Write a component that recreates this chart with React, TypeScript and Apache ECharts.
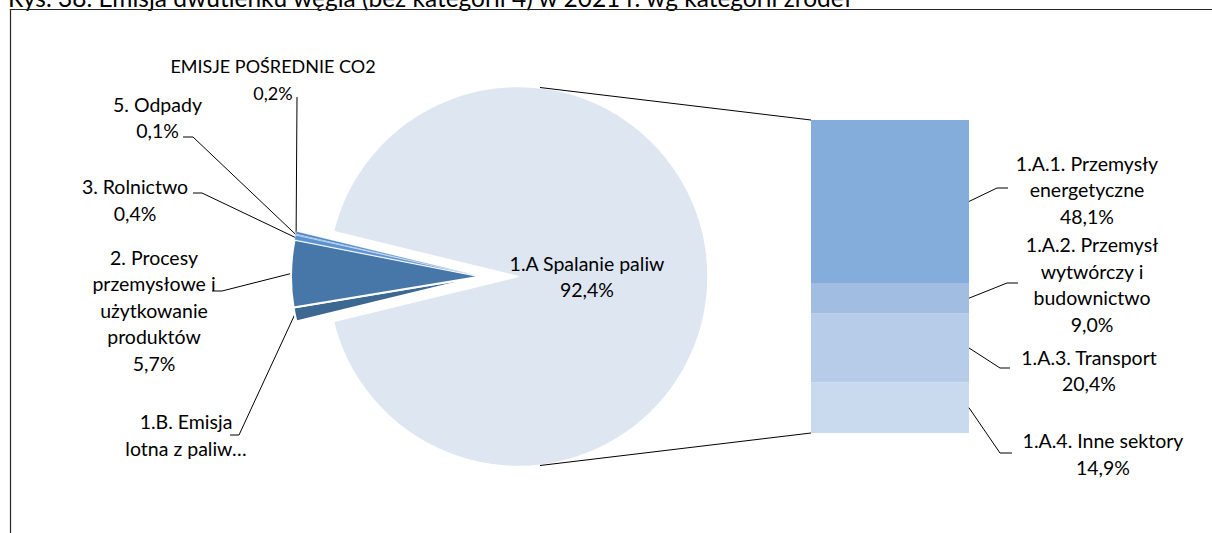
import React, { useEffect, useRef } from "react";
import * as echarts from "echarts";

// ---------- data ----------
const TITLE = "Rys. 38. Emisja dwutlenku węgla (bez kategorii 4) w 2021 r. wg kategorii źródeł";

const mainName = "1.A Spalanie paliw";
const mainValue = 92.4;

const pieNames = [
  "1.B. Emisja\nlotna z paliw…",
  "2. Procesy\nprzemysłowe i\nużytkowanie\nproduktów",
  "3. Rolnictwo",
  "5. Odpady",
  "EMISJE POŚREDNIE CO2",
];
const pieValues = [1.2, 5.7, 0.4, 0.1, 0.2];
const pieShowValue = [false, true, true, true, true];

// top to bottom in the bar
const barNames = [
  "1.A.1. Przemysły\nenergetyczne",
  "1.A.2. Przemysł\nwytwórczy i\nbudownictwo",
  "1.A.3. Transport",
  "1.A.4. Inne sektory",
];
const barValues = [48.1, 9.0, 20.4, 14.9];

// ---------- styles / layout ----------
const FONT = "Lato";
const FONT_SIZE = 19.5;
const TITLE_SIZE = 24.5;
const LINE_H = 26.5;
const TEXT_COLOR = "#000";

const mainColor = "#DEE6F2";
const pieColors = ["#3D6892", "#4677A8", "#5B93D0", "#6FA3D8", "#4F86C6"];
const pieLabelSizes = [FONT_SIZE, FONT_SIZE, FONT_SIZE, FONT_SIZE, 18];
const barColors = ["#84ADDB", "#A2BDE2", "#B6CCE8", "#C9D9EE"];

const PIE_CX = 518;
const PIE_CY = 276.5;
const PIE_R = 190;
const EXPLODE = 37;

const BAR_LEFT = 811;
const BAR_TOP = 120;
const BAR_W = 158;
const BAR_H = 313;

const pieLabelLayout = [
  { x: 186, y: 435, elbow: [239, 435], end: [230, 435] },
  { x: 154, y: 310, elbow: [222, 291], end: [212, 291] },
  { x: 135, y: 200, elbow: [202, 193], end: [193, 193] },
  { x: 157.5, y: 117.5, elbow: [193, 137], end: [183, 137] },
  { x: 273, y: 79.5, elbow: [297, 97], end: [297, 97] },
];
const barLabelLayout = [
  { x: 1087, y: 189.5, elbow: [997, 188], end: [1008, 188] },
  { x: 1092, y: 284.5, elbow: [1007, 283], end: [1018, 283] },
  { x: 1089, y: 370.5, elbow: [1000, 368], end: [1010, 368] },
  { x: 1103, y: 454, elbow: [1000, 453], end: [1012, 453] },
];

const fmt = (v: number) => v.toFixed(1).replace(".", ",") + "%";

const restTotal = pieValues.reduce((a, b) => a + b, 0);
const total = mainValue + restTotal;
const barTotal = barValues.reduce((a, b) => a + b, 0);
const START_ANGLE = 180 - ((restTotal / total) * 360) / 2;

function sliceMidPoint(i: number, cx: number) {
  let before = mainValue;
  for (let j = 0; j < i; j++) before += pieValues[j];
  const a = ((START_ANGLE - ((before + pieValues[i] / 2) / total) * 360) * Math.PI) / 180;
  return [cx + PIE_R * Math.cos(a), PIE_CY - PIE_R * Math.sin(a)];
}

function barSegmentMid(i: number) {
  let before = 0;
  for (let j = 0; j < i; j++) before += barValues[j];
  const y = BAR_TOP + (BAR_H * (before + barValues[i] / 2)) / barTotal;
  return [BAR_LEFT + BAR_W, y];
}

const textStyle = {
  fontFamily: FONT,
  fontSize: FONT_SIZE,
  lineHeight: LINE_H,
  color: TEXT_COLOR,
};

function buildOption(): any {
  const barOrder = [3, 2, 1, 0]; // stacked bottom to top
  const barSeries = barOrder.map((i) => ({
    type: "bar",
    name: barNames[i],
    stack: "fuel",
    data: [barValues[i]],
    barWidth: "100%",
    silent: true,
    itemStyle: { color: barColors[i] },
    label: {
      show: true,
      position: "right",
      formatter: barNames[i] + "\n" + fmt(barValues[i]),
      ...textStyle,
    },
    labelLayout: () => {
      const L = barLabelLayout[i];
      return { x: L.x, y: L.y, align: "center", verticalAlign: "middle" };
    },
  }));

  const barLeaders = barValues.map((_, i) => ({
    type: "polyline",
    shape: { points: [barSegmentMid(i), barLabelLayout[i].elbow, barLabelLayout[i].end] },
    style: { stroke: "#000", lineWidth: 1, fill: null },
    z: 10,
  }));

  const exCx = PIE_CX - EXPLODE;

  return {
    animation: false,
    backgroundColor: "#fff",
    graphic: [
      {
        type: "text",
        x: 8,
        y: 10,
        style: {
          text: TITLE,
          font: `${TITLE_SIZE}px ${FONT}`,
          fill: TEXT_COLOR,
          verticalAlign: "bottom",
        },
      },
      {
        type: "line",
        shape: { x1: 10, y1: 9.5, x2: 1212, y2: 9.5 },
        style: { stroke: "#262626", lineWidth: 1.2 },
      },
      {
        type: "line",
        shape: { x1: 10.5, y1: 9, x2: 10.5, y2: 533 },
        style: { stroke: "#262626", lineWidth: 1.2 },
      },
      {
        type: "line",
        shape: { x1: 540, y1: 87.5, x2: BAR_LEFT, y2: BAR_TOP },
        style: { stroke: "#000", lineWidth: 1 },
        z: 10,
      },
      {
        type: "line",
        shape: { x1: 540, y1: 465.5, x2: BAR_LEFT, y2: BAR_TOP + BAR_H },
        style: { stroke: "#000", lineWidth: 1 },
        z: 10,
      },
      ...barLeaders,
    ],
    grid: { left: BAR_LEFT, top: BAR_TOP, width: BAR_W, height: BAR_H },
    xAxis: { type: "category", data: ["1.A"], show: false },
    yAxis: { type: "value", min: 0, max: barTotal, show: false },
    series: [
      {
        type: "pie",
        center: [PIE_CX, PIE_CY],
        radius: PIE_R,
        startAngle: START_ANGLE,
        clockwise: true,
        avoidLabelOverlap: false,
        silent: true,
        label: { ...textStyle },
        labelLine: { show: false },
        data: [
          {
            name: mainName,
            value: mainValue,
            itemStyle: { color: mainColor, borderColor: "#fff", borderWidth: 1.5 },
            label: {
              show: true,
              position: "inside",
              formatter: mainName + "\n" + fmt(mainValue),
            },
          },
          {
            name: "_rest",
            value: restTotal,
            itemStyle: { color: "rgba(0,0,0,0)" },
            label: { show: false },
            labelLine: { show: false },
          },
        ],
        labelLayout: (p: any) =>
          p.dataIndex === 0
            ? { x: 587, y: PIE_CY, align: "center", verticalAlign: "middle" }
            : {},
      },
      {
        type: "pie",
        center: [exCx, PIE_CY],
        radius: PIE_R,
        startAngle: START_ANGLE,
        clockwise: true,
        avoidLabelOverlap: false,
        silent: true,
        label: { ...textStyle },
        labelLine: { show: true, length: 10, length2: 10, lineStyle: { color: "#000", width: 1 } },
        data: [
          {
            name: "_main",
            value: mainValue,
            itemStyle: { color: "rgba(0,0,0,0)" },
            label: { show: false },
            labelLine: { show: false },
          },
          ...pieValues.map((v, i) => ({
            name: pieNames[i],
            value: v,
            itemStyle: {
              color: pieColors[i],
              borderColor: "#fff",
              borderWidth: i < 2 ? 2 : 0.3,
            },
            label: {
              show: true,
              position: "outside",
              fontSize: pieLabelSizes[i],
              formatter: pieShowValue[i] ? pieNames[i] + "\n" + fmt(v) : pieNames[i],
            },
          })),
        ],
        labelLayout: (p: any) => {
          if (p.dataIndex === 0) return {};
          const i = p.dataIndex - 1;
          const L = pieLabelLayout[i];
          const start = sliceMidPoint(i, exCx);
          return {
            x: L.x,
            y: L.y,
            align: "center",
            verticalAlign: "middle",
            labelLinePoints: [start, L.elbow, L.end],
          };
        },
      },
      ...barSeries,
    ],
  };
}

export default function App() {
  const ref = useRef<HTMLDivElement>(null);
  useEffect(() => {
    if (!ref.current) return;
    const chart = echarts.init(ref.current, null, { renderer: "svg" });
    chart.setOption(buildOption());
    return () => chart.dispose();
  }, []);
  return (
    <div
      ref={ref}
      style={{ position: "fixed", left: 0, top: 0, width: 1212, height: 533, background: "#fff" }}
    />
  );
}
